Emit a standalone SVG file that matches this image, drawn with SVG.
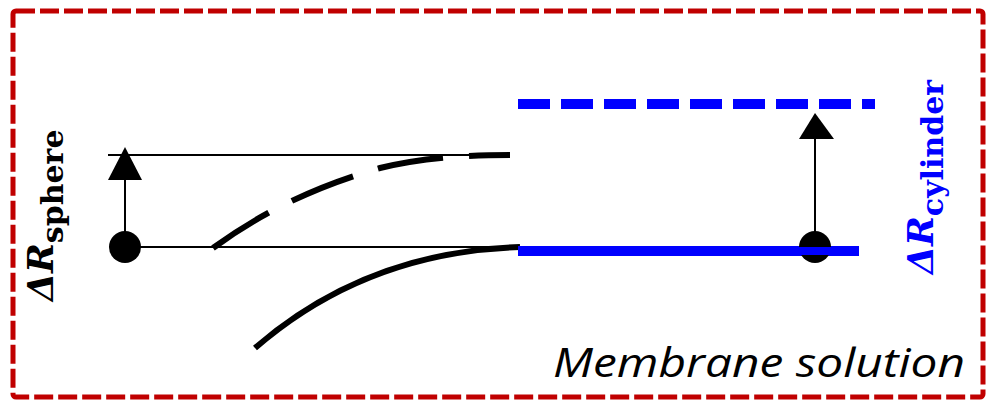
<svg xmlns="http://www.w3.org/2000/svg" width="990" height="404" viewBox="0 0 990 404">
<style>
.thin{stroke:#000;stroke-width:2;fill:none}
.lbl{font-family:"DejaVu Serif","Liberation Serif",serif;font-weight:bold}
</style>
<rect x="0" y="0" width="990" height="404" fill="#fff"/>
<rect x="13" y="11" width="970" height="386" rx="3" fill="none" stroke="#c00000" stroke-width="5" stroke-dasharray="19 5"/>
<g id="connectors">
  <line class="thin" x1="108" y1="155" x2="475" y2="155"/>
  <line class="thin" x1="125" y1="247" x2="520" y2="247"/>
  <line class="thin" x1="125" y1="247" x2="125" y2="175"/>
  <polygon points="125,147 108,180 142,180" fill="#000"/>
  <line class="thin" x1="815" y1="247" x2="815" y2="135"/>
  <polygon points="815,113 799,139 834,139" fill="#000"/>
</g>
<g id="sphere-dashed">
  <path d="M213,248 C265,210 320,185 380,168 C425,157 470,155 510,155" fill="none" stroke="#000" stroke-width="6" stroke-dasharray="66 26"/>
</g>
<g id="sphere-solid">
  <path d="M255,348 C330,283 420,250 520,247" fill="none" stroke="#000" stroke-width="6"/>
</g>
<g id="cylinder">
  <line x1="518" y1="251" x2="859" y2="251" stroke="#0000ff" stroke-width="10"/>
  <line x1="518" y1="104" x2="875" y2="104" stroke="#0000ff" stroke-width="10" stroke-dasharray="32 11"/>
</g>
<g id="points">
  <circle cx="125" cy="247" r="16" fill="#000"/>
  <circle cx="815" cy="247" r="16" fill="#000"/>
  <line x1="780" y1="251" x2="859" y2="251" stroke="#0000ff" stroke-width="8"/>
</g>
<g id="label-sphere">
  <text class="lbl" transform="translate(53,301) rotate(-90)" font-size="36" fill="#000"><tspan font-style="italic">ΔR</tspan><tspan font-size="30" dy="10">sphere</tspan></text>
</g>
<g id="label-cylinder">
  <text class="lbl" transform="translate(933,274) rotate(-90)" font-size="36" fill="#0000ff"><tspan font-style="italic">ΔR</tspan><tspan font-size="30" dy="10">cylinder</tspan></text>
</g>
<g id="label-membrane">
  <text x="553" y="377" font-family="'Open Sans','Noto Sans',sans-serif" font-style="italic" font-size="40" textLength="412" lengthAdjust="spacingAndGlyphs" fill="#000">Membrane solution</text>
</g>
</svg>
